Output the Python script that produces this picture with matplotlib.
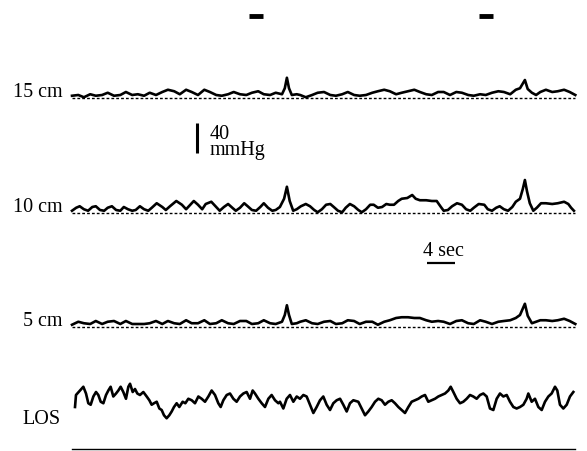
import matplotlib
matplotlib.use("Agg")
import matplotlib.pyplot as plt

plt.rcParams['font.family'] = 'serif'
plt.rcParams['font.serif'] = ['Liberation Serif', 'DejaVu Serif']

t_grid = [0, 0.9, 1.7, 2.6, 3.4, 4.3, 5.1, 6.0, 6.9, 7.7,
          8.6, 9.4, 10.3, 11.1, 12.0, 12.9, 13.7, 14.6, 15.4, 16.3,
          17.1, 18.0, 18.9, 19.7, 20.6, 21.4, 22.3, 23.1, 24.0, 24.9,
          25.7, 26.6, 27.4, 28.3, 29.1, 30.0, 30.4, 30.7, 31.0, 31.4,
          32.1, 32.6, 33.4, 34.3, 35.1, 36.0, 36.9, 37.7, 38.6, 39.4,
          40.3, 41.1, 42.0, 42.9, 43.7, 44.6, 45.4, 46.3, 47.1, 48.0,
          48.9, 49.7, 50.6, 51.4, 52.3, 53.1, 54.0, 54.9, 55.7, 56.6,
          57.4, 58.3, 59.1, 60.0, 60.9, 61.7, 62.6, 63.4, 64.0, 64.7,
          65.1, 65.7, 66.3, 66.9, 67.7, 68.6, 69.4, 70.3, 71.1, 71.9]

p_15cm = [3, 4, 1, 5, 3, 4, 7, 3, 4, 8,
          4, 5, 3, 7, 4, 8, 11, 9, 5, 11,
          8, 4, 11, 8, 4, 3, 5, 8, 5, 4,
          7, 9, 5, 4, 7, 5, 13, 27, 13, 4,
          5, 4, 1, 4, 7, 8, 4, 3, 5, 8,
          4, 3, 4, 7, 9, 11, 9, 5, 7, 9,
          11, 8, 5, 4, 8, 8, 4, 8, 7, 4,
          3, 5, 4, 7, 9, 8, 5, 11, 13, 24,
          12, 7, 4, 8, 11, 8, 9, 11, 8, 4]

p_5cm = [3, 7, 5, 4, 8, 4, 7, 8, 4, 8,
         4, 4, 4, 5, 8, 4, 8, 5, 4, 9,
         5, 5, 9, 4, 5, 9, 5, 4, 8, 8,
         4, 5, 9, 5, 4, 7, 16, 29, 16, 4,
         5, 7, 9, 5, 4, 7, 8, 4, 5, 9,
         8, 4, 7, 7, 3, 7, 9, 12, 13, 13,
         12, 12, 9, 7, 8, 7, 4, 8, 9, 5,
         4, 9, 7, 4, 7, 8, 9, 12, 16, 31,
         15, 5, 7, 9, 9, 8, 9, 11, 8, 4]

t_10cm = [0, 0.6, 1.1, 1.7, 2.3, 2.9, 3.4, 4.0, 4.6, 5.1,
          5.7, 6.3, 6.9, 7.4, 8.0, 8.6, 9.1, 9.7, 10.3, 10.9,
          11.4, 12.1, 12.9, 13.4, 14.0, 14.9, 15.7, 16.3, 16.9, 17.4,
          18.0, 18.6, 19.1, 19.9, 20.6, 21.1, 21.7, 22.3, 22.9, 23.4,
          24.0, 24.6, 25.1, 25.7, 26.3, 26.9, 27.4, 28.0, 28.6, 29.1,
          29.7, 30.3, 30.7, 31.1, 31.6, 32.1, 32.7, 33.4, 34.0, 34.6,
          35.1, 35.7, 36.3, 36.9, 37.4, 38.0, 38.6, 39.1, 39.7, 40.3,
          40.9, 41.4, 42.0, 42.6, 43.1, 43.7, 44.3, 44.9, 45.4, 46.0,
          46.6, 47.1, 47.9, 48.6, 49.1, 49.7, 50.6, 51.4, 52.1, 52.7,
          53.1, 53.7, 54.3, 55.0, 55.7, 56.3, 56.9, 57.4, 58.1, 58.9,
          59.4, 60.0, 60.6, 61.1, 61.7, 62.3, 62.9, 63.4, 64.0, 64.4,
          64.7, 65.0, 65.4, 65.9, 66.4, 67.0, 67.7, 68.6, 69.4, 70.3,
          70.9, 71.3, 71.7]

p_10cm = [3, 7, 9, 5, 3, 8, 9, 4, 3, 7,
          9, 4, 3, 8, 5, 3, 4, 9, 5, 3,
          7, 13, 8, 4, 9, 16, 11, 5, 11, 16,
          11, 5, 12, 15, 8, 3, 8, 12, 7, 3,
          7, 13, 9, 4, 3, 8, 13, 7, 3, 4,
          8, 19, 35, 16, 3, 5, 9, 12, 9, 4,
          1, 5, 11, 12, 8, 3, 1, 7, 12, 9,
          4, 1, 5, 11, 11, 7, 8, 12, 11, 11,
          16, 19, 20, 24, 19, 17, 17, 16, 16, 8,
          3, 4, 9, 13, 11, 5, 3, 7, 12, 11,
          5, 3, 7, 9, 5, 3, 8, 15, 19, 32,
          44, 29, 13, 3, 7, 13, 13, 12, 13, 15,
          12, 7, 3]

t_los = [0.43, 0.57, 1.14, 1.62, 2.0, 2.33, 2.67, 3.05, 3.43, 3.76,
         4.1, 4.48, 4.86, 5.19, 5.52, 5.9, 6.29, 6.62, 6.95, 7.33,
         7.71, 8.05, 8.29, 8.67, 9.0, 9.33, 9.71, 10.19, 10.67, 11.05,
         11.38, 11.71, 12.1, 12.48, 12.81, 13.14, 13.52, 13.9, 14.24, 14.57,
         14.95, 15.33, 15.81, 16.19, 16.62, 17.1, 17.57, 18.05, 18.52, 19.0,
         19.48, 19.95, 20.43, 20.9, 21.24, 21.62, 22.1, 22.57, 23.05, 23.52,
         24.0, 24.48, 24.95, 25.43, 25.81, 26.14, 26.62, 27.1, 27.57, 28.05,
         28.52, 29.0, 29.48,
         29.71, 30.19, 30.67, 31.14, 31.62, 32.1, 32.57, 33.05, 33.52, 34.0,
         34.48, 34.95, 35.43, 35.9, 36.38, 36.86, 37.33, 37.81, 38.29, 38.76,
         39.24, 39.71, 40.19, 40.9, 41.38, 41.86, 42.33, 42.81, 43.29, 43.76,
         44.24, 44.71, 45.19, 45.67, 46.14, 46.62, 47.1, 47.57, 48.05, 48.52,
         49.0, 49.48, 49.95, 50.43, 50.9, 51.38, 51.86, 52.33, 52.81, 53.29,
         53.76, 54.1, 54.48, 54.95, 55.43, 55.9, 56.38, 56.86, 57.33, 57.81,
         58.29, 58.76, 59.24, 59.71, 60.19, 60.67, 61.14, 61.62, 62.1, 62.57,
         63.05, 63.52, 64.0, 64.48, 64.95, 65.19, 65.67, 66.14, 66.62, 67.1,
         67.57, 68.05, 68.52, 69.0, 69.33, 69.71, 70.19, 70.67, 71.14, 71.62]

p_los = [56, 72, 78, 83, 74, 61, 59, 70, 76, 72,
         63, 61, 72, 78, 83, 70, 74, 78, 83, 76,
         67, 83, 87, 76, 80, 74, 72, 76, 70, 65,
         59, 61, 63, 54, 52, 45, 41, 45, 50, 56,
         61, 56, 63, 61, 67, 65, 61, 70, 67, 63,
         70, 78, 72, 61, 56, 65, 72, 74, 67, 63,
         70, 74, 76, 67, 78, 74, 67, 61, 56, 67,
         72, 65, 61,
         63, 54, 67, 72, 63, 70, 67, 72, 70, 59,
         48, 56, 65, 70, 59, 52, 61, 65, 67, 59,
         50, 61, 65, 63, 54, 45, 50, 56, 63, 67,
         65, 59, 63, 65, 61, 56, 52, 48, 56, 63,
         65, 67, 70, 72, 63, 65, 67, 70, 72, 74,
         78, 83, 76, 67, 61, 63, 67, 72, 70, 67,
         72, 74, 70, 54, 52, 67, 74, 70, 72, 63,
         56, 54, 56, 59, 67, 74, 63, 67, 56, 52,
         63, 70, 74, 83, 78, 59, 54, 59, 70, 76]

channels = ["15 cm", "10 cm", "5 cm", "LOS"]
swallow_marks = [(25.3, 27.3), (58.1, 60.1)]   # s
calib_mmhg = 40
calib_sec = 4

# ---- layout (px per unit of the original tracing) ----
PX_S = 7.0
PX_MMHG = 0.75
W, H = 587, 451
x0 = 72
base = {"15 cm": (H - 98) / PX_MMHG, "10 cm": (H - 213) / PX_MMHG,
        "5 cm": (H - 327) / PX_MMHG, "LOS": (H - 449) / PX_MMHG}
t_end = 71.9

fig = plt.figure(figsize=(W / 100, H / 100), dpi=100)
ax = fig.add_axes([0, 0, 1, 1])
ax.set_xlim(-x0 / PX_S, (W - x0) / PX_S)
ax.set_ylim(0, H / PX_MMHG)
ax.axis('off')

traces = {"15 cm": (t_grid, p_15cm), "10 cm": (t_10cm, p_10cm),
          "5 cm": (t_grid, p_5cm), "LOS": (t_los, p_los)}

for name in channels:
    tt, pp = traces[name]
    b = base[name]
    ax.plot(tt, [b + v for v in pp], color='black', lw=1.9,
            solid_joinstyle='round')
    if name == "LOS":
        ax.plot([0, t_end], [b, b], color='black', lw=1.0)
        ax.text(-1.6, b + 39, name, ha='right', va='center', fontsize=14.5)
    else:
        ax.plot([0, t_end], [b, b], color='black', lw=1.0,
                linestyle=(0, (2, 1.5)))
        ax.text(-1.4, b + 7, name, ha='right', va='center', fontsize=14.5)

# swallow markers along the top
for a, e in swallow_marks:
    ax.plot([a, e], [(H - 16) / PX_MMHG] * 2, color='black', lw=3.5,
            solid_capstyle='butt')

# pressure calibration bar
cb = (H - 153) / PX_MMHG
ax.plot([17.86, 17.86], [cb, cb + calib_mmhg], color='black', lw=2.2,
        solid_capstyle='butt')
ax.text(19.6, cb + 14, "40\nmmHg", ha='left', va='center', fontsize=14.5,
        linespacing=0.85)

# time calibration bar
tb = (H - 263) / PX_MMHG
ax.plot([50.7, 50.7 + calib_sec], [tb, tb], color='black', lw=1.6,
        solid_capstyle='butt')
ax.text(50.7 + calib_sec / 2 + 0.3, tb + 16, "4 sec", ha='center',
        va='center', fontsize=14.5)

fig.savefig("out.png", dpi=100)
